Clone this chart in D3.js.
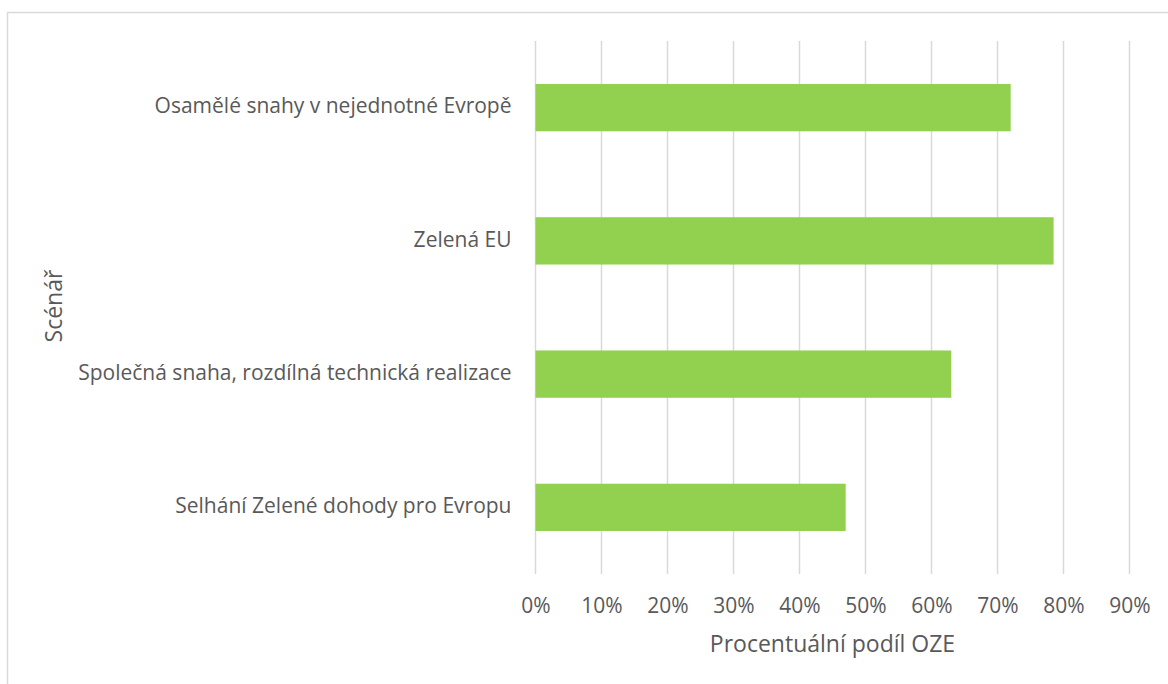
<!DOCTYPE html>
<html><head><meta charset="utf-8">
<script src="https://cdn.jsdelivr.net/npm/d3@7"></script>
<style>body{margin:0;background:#fff}svg{display:block}</style>
</head><body>
<svg id="c" width="1168" height="684"></svg>
<script>
const categories = ["Osamělé snahy v nejednotné Evropě","Zelená EU","Společná snaha, rozdílná technická realizace","Selhání Zelené dohody pro Evropu"];
const values = [0.72, 0.785, 0.63, 0.47];
const tickValues = [0,0.1,0.2,0.3,0.4,0.5,0.6,0.7,0.8,0.9];
const xTitle = "Procentuální podíl OZE";
const yTitle = "Scénář";

const svg = d3.select("#c");
const font = "'Open Sans', sans-serif";
const txt = "#595959";
svg.append("rect").attr("x",7.5).attr("y",12.5).attr("width",1200).attr("height",700)
  .attr("fill","#fff").attr("stroke","#d9d9d9").attr("stroke-width",1.5);

const x = d3.scaleLinear().domain([0,0.9]).range([535.5,1129.5]);
const y = d3.scaleBand().domain(categories).range([41,574]).paddingInner(0.645).paddingOuter(0.3225);

const g = svg.append("g");
g.selectAll("line.grid").data(tickValues).join("line").attr("class","grid")
  .attr("x1",d=>x(d)).attr("x2",d=>x(d)).attr("y1",41).attr("y2",574)
  .attr("stroke","#d9d9d9").attr("stroke-width",1.5);

g.selectAll("rect.bar").data(values).join("rect").attr("class","bar")
  .attr("x",x(0)).attr("y",(d,i)=>y(categories[i]))
  .attr("width",d=>x(d)-x(0)).attr("height",y.bandwidth()).attr("fill","#92d050");

const xAxis = d3.axisBottom(x).tickValues(tickValues).tickFormat(d3.format(".0%")).tickSize(0).tickPadding(0);
const xa = svg.append("g").attr("transform","translate(0,612.5)").call(xAxis);
xa.select(".domain").remove();
xa.selectAll("text").attr("font-family",font).attr("font-size",21).attr("fill",txt).attr("dy","0");

const yAxis = d3.axisLeft(y).tickSize(0).tickPadding(24);
const ya = svg.append("g").attr("transform",`translate(${x(0)},0)`).call(yAxis);
ya.select(".domain").remove();
ya.selectAll("text").attr("font-family",font).attr("font-size",21).attr("fill",txt).attr("dy","0.27em");

svg.append("text").attr("x",(x(0)+x(0.9))/2).attr("y",652).attr("text-anchor","middle")
  .attr("font-family",font).attr("font-size",23).attr("fill",txt).text(xTitle);
svg.append("text").attr("transform","translate(62,306) rotate(-90)").attr("text-anchor","middle")
  .attr("font-family",font).attr("font-size",23).attr("fill",txt).text(yTitle);
</script>
</body></html>
